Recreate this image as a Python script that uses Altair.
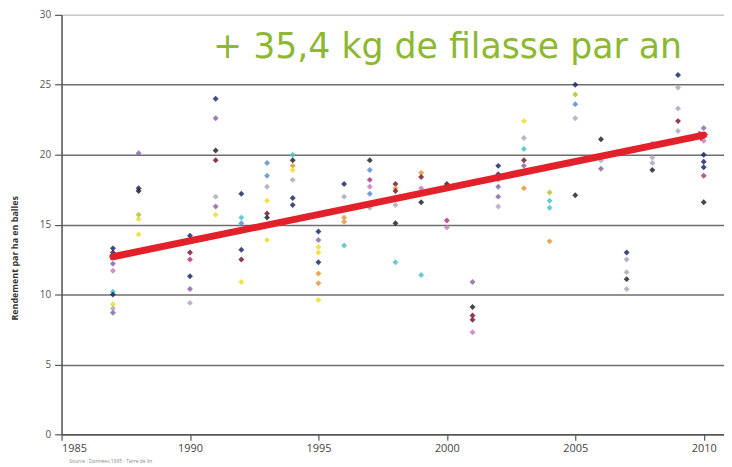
import altair as alt
import pandas as pd

# ---- data ----
YEARS = [1987, 1988, 1990, 1991, 1992, 1993, 1994, 1995, 1996, 1997, 1998, 1999,
         2000, 2001, 2002, 2003, 2004, 2005, 2006, 2007, 2008, 2009, 2010]

VALUES = [
    [13.3, 13.0, 12.8, 12.2, 11.7, 10.2, 10.0, 9.3, 9.0, 8.7],
    [20.1, 17.6, 17.4, 15.7, 15.4, 14.3],
    [14.2, 13.0, 12.5, 11.3, 10.4, 9.4],
    [24.0, 22.6, 20.3, 19.6, 17.0, 16.3, 15.7],
    [17.2, 15.5, 15.1, 13.2, 12.5, 10.9],
    [19.4, 18.5, 17.7, 16.7, 15.8, 15.5, 13.9],
    [20.0, 19.6, 19.2, 18.9, 18.2, 16.9, 16.4],
    [14.5, 13.9, 13.4, 13.0, 12.3, 11.5, 10.8, 9.6],
    [17.9, 17.0, 15.5, 15.2, 13.5],
    [19.6, 18.9, 18.2, 17.7, 17.2, 16.2],
    [17.9, 17.6, 17.4, 16.4, 15.1, 12.3],
    [18.7, 18.4, 17.6, 16.6, 11.4],
    [17.9, 15.3, 14.8],
    [10.9, 9.1, 8.5, 8.2, 7.3],
    [19.2, 18.6, 18.2, 17.7, 17.0, 16.3],
    [22.4, 21.2, 20.4, 19.6, 19.2, 17.6],
    [17.3, 16.7, 16.2, 13.8],
    [25.0, 24.3, 23.6, 22.6, 17.1],
    [21.1, 19.6, 19.0],
    [13.0, 12.5, 11.6, 11.1, 10.4],
    [20.8, 19.8, 19.4, 18.9],
    [25.7, 24.8, 23.3, 22.4, 21.7],
    [21.9, 21.0, 20.0, 19.5, 19.1, 18.5, 16.6],
]

VARIETIES = [
    ["A", "A", "A", "B", "D", "F", "A", "C", "H", "B"],
    ["B", "A", "I", "K", "C", "C"],
    ["A", "E", "L", "A", "B", "H"],
    ["A", "B", "I", "E", "H", "B", "C"],
    ["A", "F", "J", "A", "E", "C"],
    ["J", "J", "H", "C", "E", "I", "C"],
    ["F", "I", "G", "C", "H", "A", "A"],
    ["A", "B", "C", "C", "A", "G", "G", "C"],
    ["A", "H", "G", "G", "F"],
    ["I", "J", "L", "D", "J", "H"],
    ["E", "G", "E", "H", "I", "F"],
    ["G", "E", "D", "I", "F"],
    ["I", "L", "D"],
    ["B", "I", "E", "E", "D"],
    ["A", "A", "H", "B", "B", "H"],
    ["C", "H", "F", "E", "B", "G"],
    ["K", "F", "F", "G"],
    ["A", "K", "J", "H", "I"],
    ["I", "H", "B"],
    ["A", "H", "H", "I", "H"],
    ["H", "H", "H", "I"],
    ["A", "H", "H", "E", "H"],
    ["B", "D", "A", "A", "A", "L", "I"],
]

VARIETY_NAMES = ["A", "B", "C", "D", "E", "F", "G", "H", "I", "J", "K", "L"]
VARIETY_COLORS = ["#1f2a6b", "#8b6aa8", "#f0dc2a", "#c57fc0", "#7b1a35", "#4cc3c8",
                  "#e39a3b", "#a9a9bb", "#262626", "#5b8fd0", "#b5c23a", "#b2387f"]

TREND_YEARS = [1987, 2010]
TREND_VALUES = [12.7, 21.4]

Y_TICKS = [0, 5, 10, 15, 20, 25, 30]
X_TICKS = [1985, 1990, 1995, 2000, 2005, 2010]

HEADLINE = "+ 35,4 kg de filasse par an"
SOURCE = "Source : Données 1985 - Terre de lin"

rows = []
for yr, vals, vars_ in zip(YEARS, VALUES, VARIETIES):
    for v, var in zip(vals, vars_):
        rows.append({"annee": yr, "rendement": v, "variete": var})
points_df = pd.DataFrame(rows)
trend_df = pd.DataFrame({"annee": TREND_YEARS, "rendement": TREND_VALUES})
head_df = pd.DataFrame({"annee": [TREND_YEARS[-1]], "rendement": [TREND_VALUES[-1]]})
headline_df = pd.DataFrame({"annee": [1990.9], "rendement": [26.9], "t": [HEADLINE]})
source_df = pd.DataFrame({"annee": [1985.3], "rendement": [-1.9], "t": [SOURCE]})

FONT = "Open Sans"

xscale = alt.Scale(domain=[1985, 2010.79], nice=False, zero=False)
yscale = alt.Scale(domain=[0, 30], nice=False)

x_enc = alt.X("annee:Q", scale=xscale,
              axis=alt.Axis(values=X_TICKS, format="d", title=None, grid=False,
                            labelFont=FONT, labelFontSize=11, labelColor="#444",
                            tickColor="#555", tickSize=6, tickWidth=1.2,
                            domainColor="#555", domainWidth=1.5, labelPadding=2))
y_enc = alt.Y("rendement:Q", scale=yscale,
              axis=alt.Axis(values=Y_TICKS, title="Rendement par ha en balles",
                            titleFont=FONT, titleFontSize=9, titleFontWeight="bold",
                            titleColor="#333", titleX=-47, titleY=245,
                            titleAlign="center", titleBaseline="middle",
                            grid=True,
                            gridColor={"condition": {"test": "datum.value === 30", "value": "#c8c8c8"},
                                       "value": "#6e6e6e"},
                            gridWidth=1.5,
                            labelFont=FONT, labelFontSize=10, labelColor="#555",
                            tickColor="#555", tickSize=7, tickWidth=1.2,
                            domainColor="#555", domainWidth=1.5, labelPadding=4))

pts = alt.Chart(points_df).mark_point(filled=True, shape="diamond", size=36, opacity=0.85).encode(
    x=x_enc, y=y_enc,
    color=alt.Color("variete:N", scale=alt.Scale(domain=VARIETY_NAMES, range=VARIETY_COLORS), legend=None),
)

trend = alt.Chart(trend_df).mark_line(color="#e3212b", strokeWidth=7, strokeCap="round").encode(
    x="annee:Q", y="rendement:Q")

head = alt.Chart(head_df).mark_point(filled=True, shape="triangle-right", size=110,
                                     color="#e3212b", opacity=1, angle=348).encode(
    x="annee:Q", y="rendement:Q")

headline = alt.Chart(headline_df).mark_text(align="left", baseline="alphabetic", font="DejaVu Sans",
                                            fontSize=35, color="#8cb832").encode(
    x="annee:Q", y="rendement:Q", text="t:N")

source = alt.Chart(source_df).mark_text(align="left", baseline="middle", font=FONT,
                                        fontSize=5, color="#888").encode(
    x="annee:Q", y="rendement:Q", text="t:N")

chart = alt.layer(pts, trend, head, headline, source).properties(
    width=668, height=423,
    autosize=alt.AutoSizeParams(type="none"),
    padding={"left": 54, "top": 5, "right": 0, "bottom": 28},
).configure_view(stroke=None).configure(background="white")

chart.save("out.html", embed_options={"renderer": "svg", "actions": False})
